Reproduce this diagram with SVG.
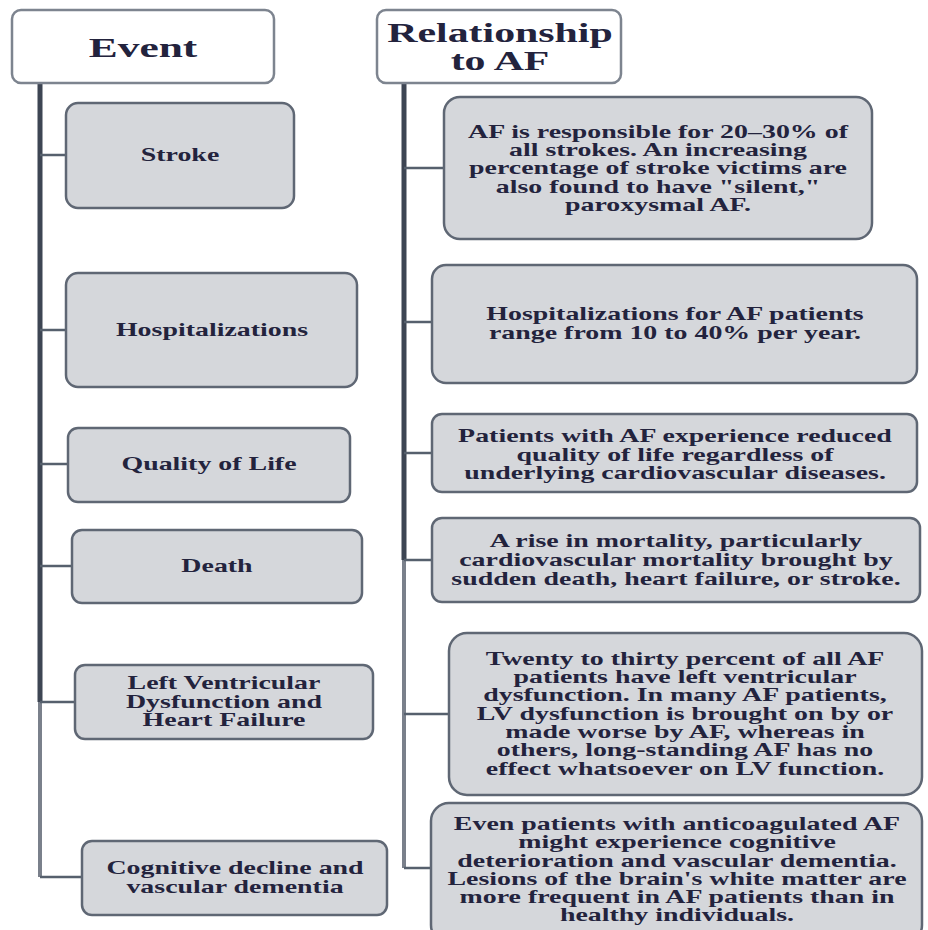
<svg xmlns="http://www.w3.org/2000/svg" width="928" height="930" viewBox="0 0 928 930">
<style>
.hdr{fill:#ffffff;stroke:#7d848f;stroke-width:2.5}
.box{fill:#d5d7db;stroke:#5f6774;stroke-width:2.5}
.spine{stroke:#3d4553;stroke-width:5;fill:none}
.spine2{stroke:#7a808b;stroke-width:4;fill:none}
.conn{stroke:#56606d;stroke-width:2.5;fill:none}
text{font-family:"Liberation Serif","Times New Roman",serif;font-weight:bold;fill:#23233d;text-anchor:middle}
.t{font-size:18px}
.h{font-size:27px}
</style>
<rect width="928" height="930" fill="#ffffff"/>
<g id="connectors">
<line class="spine" x1="40" y1="83" x2="40" y2="702"/>
<line class="spine2" x1="40" y1="702" x2="40" y2="877"/>
<line class="conn" x1="40" y1="155" x2="66" y2="155"/>
<line class="conn" x1="40" y1="330" x2="66" y2="330"/>
<line class="conn" x1="40" y1="464" x2="68" y2="464"/>
<line class="conn" x1="40" y1="566" x2="72" y2="566"/>
<line class="conn" x1="40" y1="702" x2="75" y2="702"/>
<line class="conn" x1="40" y1="877" x2="82" y2="877"/>
<line class="spine" x1="404" y1="83" x2="404" y2="560"/>
<line class="spine2" x1="404" y1="560" x2="404" y2="868"/>
<line class="conn" x1="404" y1="168" x2="444" y2="168"/>
<line class="conn" x1="404" y1="322" x2="432" y2="322"/>
<line class="conn" x1="404" y1="453" x2="432" y2="453"/>
<line class="conn" x1="404" y1="560" x2="432" y2="560"/>
<line class="conn" x1="404" y1="714" x2="449" y2="714"/>
<line class="conn" x1="404" y1="868" x2="431" y2="868"/>
</g>
<g id="hdr-event">
<rect class="hdr" x="12" y="10" width="262" height="73" rx="9"/>
<text class="h" transform="translate(143,0) scale(1.55,1)" x="0" y="57" style="font-size:28px">Event</text>
</g>
<g id="hdr-rel">
<rect class="hdr" x="377" y="10" width="244" height="73" rx="9"/>
<text class="h" transform="translate(500,0) scale(1.55,1)" x="0" y="42">Relationship</text>
<text class="h" transform="translate(500,0) scale(1.55,1)" x="0" y="70">to AF</text>
</g>
<g id="ev-stroke">
<rect class="box" x="66" y="103" width="228" height="105" rx="12"/>
<text class="t" transform="translate(180,0) scale(1.55,1)" x="0" y="161">Stroke</text>
</g>
<g id="ev-hosp">
<rect class="box" x="66" y="273" width="291" height="114" rx="12"/>
<text class="t" transform="translate(212,0) scale(1.55,1)" x="0" y="336">Hospitalizations</text>
</g>
<g id="ev-qol">
<rect class="box" x="68" y="428" width="282" height="74" rx="10"/>
<text class="t" transform="translate(209,0) scale(1.55,1)" x="0" y="470">Quality of Life</text>
</g>
<g id="ev-death">
<rect class="box" x="72" y="530" width="290" height="73" rx="10"/>
<text class="t" transform="translate(217,0) scale(1.55,1)" x="0" y="572">Death</text>
</g>
<g id="ev-lv">
<rect class="box" x="75" y="665" width="298" height="74" rx="10"/>
<text class="t" transform="translate(224,0) scale(1.55,1)" x="0" y="689">Left Ventricular</text>
<text class="t" transform="translate(224,0) scale(1.55,1)" x="0" y="708">Dysfunction and</text>
<text class="t" transform="translate(224,0) scale(1.55,1)" x="0" y="726">Heart Failure</text>
</g>
<g id="ev-cog">
<rect class="box" x="82" y="841" width="305" height="74" rx="10"/>
<text class="t" transform="translate(235,0) scale(1.55,1)" x="0" y="874">Cognitive decline and</text>
<text class="t" transform="translate(235,0) scale(1.55,1)" x="0" y="893">vascular dementia</text>
</g>
<g id="rel-stroke">
<rect class="box" x="444" y="97" width="428" height="142" rx="16"/>
<g transform="translate(658,0) scale(1.55,1)">
<text class="t" x="0" y="138">AF is responsible for 20–30% of</text>
<text class="t" x="0" y="156">all strokes. An increasing</text>
<text class="t" x="0" y="174">percentage of stroke victims are</text>
<text class="t" x="0" y="193">also found to have "silent,"</text>
<text class="t" x="0" y="211">paroxysmal AF.</text>
</g>
</g>
<g id="rel-hosp">
<rect class="box" x="432" y="265" width="485" height="118" rx="14"/>
<g transform="translate(675,0) scale(1.55,1)">
<text class="t" x="0" y="320">Hospitalizations for AF patients</text>
<text class="t" x="0" y="339">range from 10 to 40% per year.</text>
</g>
</g>
<g id="rel-qol">
<rect class="box" x="432" y="414" width="485" height="78" rx="10"/>
<g transform="translate(675,0) scale(1.55,1)">
<text class="t" x="0" y="442">Patients with AF experience reduced</text>
<text class="t" x="0" y="461">quality of life regardless of</text>
<text class="t" x="0" y="479">underlying cardiovascular diseases.</text>
</g>
</g>
<g id="rel-death">
<rect class="box" x="432" y="518" width="488" height="84" rx="10"/>
<g transform="translate(676,0) scale(1.55,1)">
<text class="t" x="0" y="547">A rise in mortality, particularly</text>
<text class="t" x="0" y="566">cardiovascular mortality brought by</text>
<text class="t" x="0" y="585">sudden death, heart failure, or stroke.</text>
</g>
</g>
<g id="rel-lv">
<rect class="box" x="449" y="633" width="473" height="162" rx="18"/>
<g transform="translate(685,0) scale(1.55,1)">
<text class="t" x="0" y="665">Twenty to thirty percent of all AF</text>
<text class="t" x="0" y="683">patients have left ventricular</text>
<text class="t" x="0" y="701">dysfunction. In many AF patients,</text>
<text class="t" x="0" y="720">LV dysfunction is brought on by or</text>
<text class="t" x="0" y="738">made worse by AF, whereas in</text>
<text class="t" x="0" y="756">others, long-standing AF has no</text>
<text class="t" x="0" y="775">effect whatsoever on LV function.</text>
</g>
</g>
<g id="rel-cog">
<rect class="box" x="431" y="803" width="491" height="140" rx="18"/>
<g transform="translate(677,0) scale(1.55,1)">
<text class="t" x="0" y="830">Even patients with anticoagulated AF</text>
<text class="t" x="0" y="848">might experience cognitive</text>
<text class="t" x="0" y="867">deterioration and vascular dementia.</text>
<text class="t" x="0" y="885">Lesions of the brain's white matter are</text>
<text class="t" x="0" y="903">more frequent in AF patients than in</text>
<text class="t" x="0" y="921">healthy individuals.</text>
</g>
</g>
</svg>
